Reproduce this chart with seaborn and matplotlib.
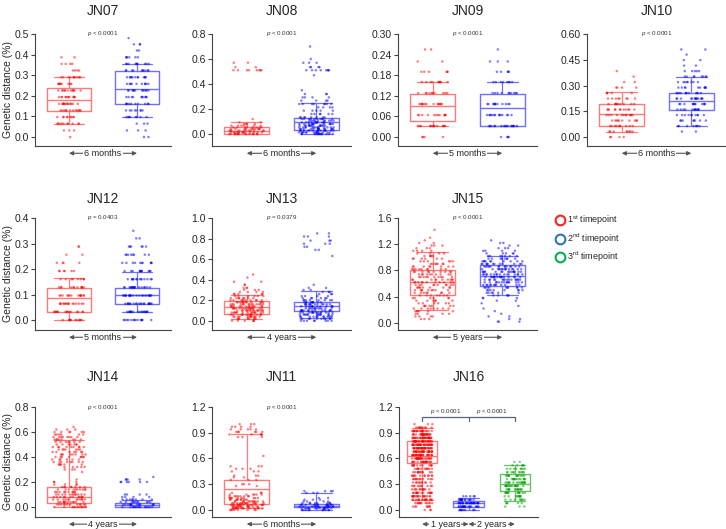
import numpy as np
import pandas as pd
import matplotlib
matplotlib.use("Agg")
import matplotlib.pyplot as plt
import matplotlib.transforms as mtrans
from matplotlib.lines import Line2D
import seaborn as sns

# ---- data: distance levels (%) and number of sequences found at each level ----
jn07_levels = [0, .032, .065, .097, .129, .161, .194, .226, .258, .29, .323, .355, .387, .42, .45, .48]
jn07_red = [1, 3, 10, 9, 12, 14, 12, 12, 9, 10, 4, 4, 2, 0, 0, 0]
jn07_blue = [2, 3, 3, 8, 8, 10, 10, 12, 10, 12, 10, 10, 6, 2, 3, 1]
jn07_box = [[.128, .18, .24, .065, .29], [.16, .233, .32, .097, .355]]

jn08_levels = [0, .013, .027, .04, .053, .067, .08, .093, .107, .12, .133, .16, .187, .213,
               .24, .267, .293, .32, .35, .47, .51, .535, .57, .6, .7]
jn08_red = [14, 14, 12, 10, 8, 6, 4, 2, 0, 1, 0, 0, 0, 0, 0, 0, 0, 0, 0, 0, 8, 2, 2, 0, 0]
jn08_blue = [14, 14, 14, 14, 14, 14, 12, 12, 10, 10, 8, 6, 5, 4, 8, 4, 4, 3, 1, 1, 8, 4, 3, 1, 1]
jn08_box = [[0.0, .027, .06, 0.0, .093], [.03, .1, .125, 0.0, .25]]

jn09_levels = [0, .032, .064, .096, .128, .16, .19, .22, .255]
jn09_red = [4, 14, 12, 14, 10, 10, 6, 2, 2]
jn09_blue = [4, 16, 14, 12, 10, 8, 5, 3, 1]
jn09_box = [[.048, .09, .126, .032, .16], [.032, .085, .126, .032, .16]]

jn10_levels = [0, .032, .064, .096, .128, .16, .192, .224, .256, .288, .32, .352, .384,
               .416, .448, .48, .51]
jn10_red = [4, 8, 10, 10, 12, 12, 10, 8, 5, 4, 2, 1, 1, 0, 0, 0, 0]
jn10_blue = [0, 2, 8, 8, 10, 12, 12, 14, 12, 10, 8, 8, 5, 2, 2, 1, 2]
jn10_box = [[.065, .135, .19, .03, .26], [.155, .21, .255, .065, .35]]

jn12_levels = [0, .032, .064, .096, .128, .16, .192, .224, .256, .288, .32, .35]
jn12_red = [12, 16, 16, 14, 12, 8, 6, 4, 2, 2, 0, 0]
jn12_blue = [14, 18, 20, 22, 18, 14, 12, 10, 8, 6, 2, 1]
jn12_box = [[.032, .088, .125, 0.0, .165], [.064, .097, .125, .032, .19]]

jn13_levels = [0, .02, .04, .06, .08, .1, .12, .14, .16, .18, .2, .22, .24, .26, .28, .3,
               .32, .35, .38, .42, .45, .63, .69, .72, .75, .78, .82, .85]
jn13_red = [6, 8, 12, 14, 14, 16, 16, 14, 14, 12, 10, 8, 6, 5, 4, 3, 3, 2, 2, 1, 1,
            0, 0, 0, 0, 0, 0, 0]
jn13_blue = [8, 10, 12, 14, 14, 14, 12, 12, 12, 10, 8, 6, 4, 3, 3, 2, 2, 1, 0, 0, 0,
             1, 2, 2, 3, 3, 3, 2]
jn13_box = [[.065, .135, .19, .02, .25], [.094, .14, .185, .03, .29]]

jn15_levels = [.02, .06, .10, .14, .18, .22, .26, .30, .34, .38, .42, .46, .50, .54, .58,
               .62, .66, .70, .74, .78, .82, .86, .90, .94, .98, 1.02, 1.06, 1.10, 1.14,
               1.18, 1.22, 1.26, 1.30, 1.34, 1.38, 1.42]
jn15_red = [0, 3, 4, 5, 6, 8, 7, 6, 6, 6, 7, 8, 9, 9, 10, 11, 10, 10, 10, 10, 9, 8, 7, 6,
            6, 5, 4, 4, 3, 3, 2, 1, 1, 0, 0, 1]
jn15_blue = [3, 2, 2, 1, 1, 1, 1, 1, 2, 3, 5, 6, 8, 10, 12, 14, 16, 16, 16, 16, 15, 14, 12,
             10, 8, 7, 5, 4, 3, 2, 2, 1, 0, 0, 0, 0]
jn15_box = [[.42, .63, .81, .2, 1.08], [.57, .71, .89, .42, 1.02]]

jn14_levels = [0, .02, .04, .06, .08, .1, .12, .14, .16, .18, .2, .22, .24, .26, .28, .3,
               .32, .34, .36, .38, .4, .42, .44, .46, .48, .5, .52, .54, .56, .58, .6, .62, .64]
jn14_red = [12, 12, 12, 12, 12, 12, 10, 10, 8, 4, 3, 1, 0, 0, 1, 3, 5, 6, 8, 6, 8, 8, 7,
            7, 9, 7, 7, 8, 8, 6, 6, 3, 1]
jn14_blue = [14, 14, 10, 8, 4, 4, 0, 0, 0, 0, 6, 4, 1, 0, 0, 0, 0, 0, 0, 0, 0, 0, 0,
             0, 0, 0, 0, 0, 0, 0, 0, 0, 0]
jn14_box = [[.03, .08, .16, 0.0, .54], [0.0, .02, .03, 0.0, .06]]

jn11_levels = [0, .02, .04, .06, .08, .1, .12, .14, .16, .18, .2, .22, .28, .3, .35, .38,
               .4, .45, .48, .51, .63, .85, .88, .91, .94, .97, 1.0]
jn11_red = [8, 14, 16, 16, 14, 12, 10, 10, 8, 6, 3, 0, 2, 3, 3, 2, 3, 3, 3, 3, 1, 3, 5,
            6, 5, 4, 3]
jn11_blue = [10, 14, 14, 12, 8, 4, 3, 2, 0, 0, 3, 4, 0, 0, 0, 0, 0, 0, 0, 0, 0, 0, 0,
             0, 0, 0, 0]
jn11_box = [[.07, .25, .35, .02, .89], [.03, .045, .07, 0.0, .2]]

jn16_levels = [0, .04, .08, .12, .16, .2, .24, .28, .32, .36, .4, .44, .48, .52, .56, .6,
               .64, .68, .72, .76, .8, .84, .88, .92, .96, 1.0]
jn16_red = [3, 8, 12, 16, 18, 16, 12, 10, 10, 12, 12, 12, 12, 12, 20, 26, 30, 32, 34, 34,
            32, 30, 26, 20, 10, 3]
jn16_blue = [8, 20, 25, 15, 5, 0, 0, 0, 0, 0, 0, 0, 0, 0, 0, 0, 0, 0, 0, 0, 0, 0, 0, 0, 0, 0]
jn16_green = [0, 3, 5, 8, 10, 12, 14, 16, 16, 14, 12, 10, 8, 5, 2, 0, 0, 0, 0, 0, 0, 0, 0,
              0, 0, 0]
jn16_box = [[.55, .63, .8, .12, .95], [.03, .08, .1, 0.0, .14], [.22, .3, .42, .1, .52]]

timepoints = ["1st", "2nd", "3rd"]
point_colors = ["#ff0000", "#0000ff", "#00a000"]
box_colors = ["#ff7a7a", "#7070ff", "#66c266"]
legend_colors = ["#ff2020", "#2e75b6", "#00b050"]

# title, levels, counts per timepoint, box stats, ymax, ystep, tick format, p text, period
panels = [
    ("JN07", jn07_levels, [jn07_red, jn07_blue], jn07_box, .5, .1, "%.1f", "< 0.0001", ["6 months"]),
    ("JN08", jn08_levels, [jn08_red, jn08_blue], jn08_box, .8, .2, "%.1f", "< 0.0001", ["6 months"]),
    ("JN09", jn09_levels, [jn09_red, jn09_blue], jn09_box, .3, .06, "%.2f", "< 0.0001", ["5 months"]),
    ("JN10", jn10_levels, [jn10_red, jn10_blue], jn10_box, .6, .15, "%.2f", "< 0.0001", ["6 months"]),
    ("JN12", jn12_levels, [jn12_red, jn12_blue], jn12_box, .4, .1, "%.1f", "= 0.0403", ["5 months"]),
    ("JN13", jn13_levels, [jn13_red, jn13_blue], jn13_box, 1.0, .2, "%.1f", "= 0.0379", ["4 years"]),
    ("JN15", jn15_levels, [jn15_red, jn15_blue], jn15_box, 1.6, .4, "%.1f", "< 0.0001", ["5 years"]),
    ("JN14", jn14_levels, [jn14_red, jn14_blue], jn14_box, .8, .2, "%.1f", "< 0.0001", ["4 years"]),
    ("JN11", jn11_levels, [jn11_red, jn11_blue], jn11_box, 1.2, .3, "%.1f", "< 0.0001", ["6 months"]),
    ("JN16", jn16_levels, [jn16_red, jn16_blue, jn16_green], jn16_box, 1.2, .3, "%.1f",
     "< 0.0001", ["1 years", "2 years"]),
]

# ---- layout (pixels of a 726x529 canvas) ----
W, H = 726, 529
slots = [(35, 34, 112), (212, 34, 112), (398, 34, 112), (587, 34, 112),
         (35, 218, 112), (212, 218, 112), (398, 218, 112),
         (35, 407, 110), (212, 407, 110), (399, 407, 110)]
pads = [.087, .12, .087, .087, .098, .09, .067, .1, .068, .068]
title_pads = [13.5] * 4 + [11] * 3 + [18.5] * 3
jitters = [.18, .25, .22, .22, .22, .24, .3, .25, .25, .22]

sns.set_style("ticks")
plt.rcParams["font.family"] = ["Liberation Sans", "DejaVu Sans"]
plt.rcParams["mathtext.fontset"] = "custom"
plt.rcParams["mathtext.rm"] = "Liberation Sans"
plt.rcParams["mathtext.it"] = "Liberation Sans:italic"
np.random.seed(3)

fig = plt.figure(figsize=(W / 100, H / 100), dpi=100)

for i, (name, levels, counts, box, ymax, ystep, fmt, ptxt, periods) in enumerate(panels):
    x0, top, h = slots[i]
    axw = 136 if x0 < 100 else 139
    ax = fig.add_axes([x0 / W, (H - top - h) / H, axw / W, h / H])
    ng = len(counts)
    groups = [timepoints[g] for g in range(ng)]
    vals = np.concatenate([np.repeat(levels, c) for c in counts])
    grp = np.concatenate([[groups[g]] * int(np.sum(c)) for g, c in enumerate(counts)])
    df = pd.DataFrame({"tp": grp, "dist": vals})

    stats = [dict(q1=b[0], med=b[1], q3=b[2], whislo=b[3], whishi=b[4], fliers=[]) for b in box]
    art = ax.bxp(stats, positions=range(ng), widths=.65, showfliers=False,
                 manage_ticks=False, capwidths=.45)
    for g in range(ng):
        c = box_colors[g]
        art["boxes"][g].set(color=c, lw=1)
        art["medians"][g].set(color=c, lw=1)
        for k in (2 * g, 2 * g + 1):
            art["whiskers"][k].set(color=c, lw=.9)
            art["caps"][k].set(color=c, lw=.9)

    sns.stripplot(data=df, x="tp", y="dist", hue="tp", order=groups, hue_order=groups,
                  palette=point_colors[:ng], jitter=jitters[i], size=1.8, alpha=.5,
                  linewidth=0, legend=False, ax=ax, zorder=3)

    pad = pads[i] * ymax
    ax.set_xlim(-.5, ng - .5)
    ax.set_ylim(-pad, ymax)
    ticks = np.round(np.arange(0, ymax + ystep / 2, ystep), 3)
    ax.set_yticks(ticks)
    ax.set_yticklabels([fmt % t for t in ticks], fontsize=7.5)
    ax.set_xticks([])
    ax.set_xlabel("")
    ax.set_ylabel("Genetic distance (%)" if x0 < 100 else "", fontsize=7.5, labelpad=1)
    ax.set_title(name, fontsize=10, pad=title_pads[i])
    sns.despine(ax=ax)
    ax.spines["left"].set_bounds(0 - pad, ymax)
    for s in ("left", "bottom"):
        ax.spines[s].set_color("#444444")
        ax.spines[s].set_linewidth(.8)
    ax.tick_params(axis="y", length=3, width=.8, color="#444444", pad=1.5)

    label = "$p$ " + ptxt
    trans = mtrans.blended_transform_factory(ax.transData, ax.transAxes)
    if ng == 2:
        ax.text(.5, ymax, label, ha="center", va="center", fontsize=4.5, color="#333333",
                transform=ax.transData)
    else:
        by, bd = ymax * .9, ymax * .04
        bc = "#5a6478"
        ax.plot([0, 0, 1, 1], [by - bd, by, by, by - bd], color=bc, lw=.9, clip_on=False)
        ax.plot([1, 2, 2], [by, by, by - bd], color=bc, lw=.9, clip_on=False)
        for xm in (.5, 1.5):
            ax.text(xm, by + ymax * .015, label, ha="center", va="bottom", fontsize=4.5,
                    color="#333333")

    ya = -.065
    for k, per in enumerate(periods):
        ax.annotate("", xy=(k, ya), xytext=(k + 1, ya), xycoords=trans, textcoords=trans,
                    annotation_clip=False,
                    arrowprops=dict(arrowstyle="<|-|>", color="#555555", lw=.8,
                                    mutation_scale=6, shrinkA=0, shrinkB=0))
        ax.text(k + .5, ya, per, transform=trans, ha="center", va="center", fontsize=6.5,
                bbox=dict(fc="white", ec="none", pad=1))

handles = [Line2D([], [], marker="o", ls="", ms=7, mfc="none", mec=c, mew=1.5)
           for c in legend_colors]
labels = ["1$^{\\rm st}$ timepoint", "2$^{\\rm nd}$ timepoint", "3$^{\\rm rd}$ timepoint"]
fig.legend(handles, labels, loc="upper left", bbox_to_anchor=(551 / W, 1 - 210 / H),
           frameon=False, fontsize=6.5, handletextpad=.2, labelspacing=.45,
           borderaxespad=0, handlelength=1.2)

fig.savefig("out.png", dpi=100)
